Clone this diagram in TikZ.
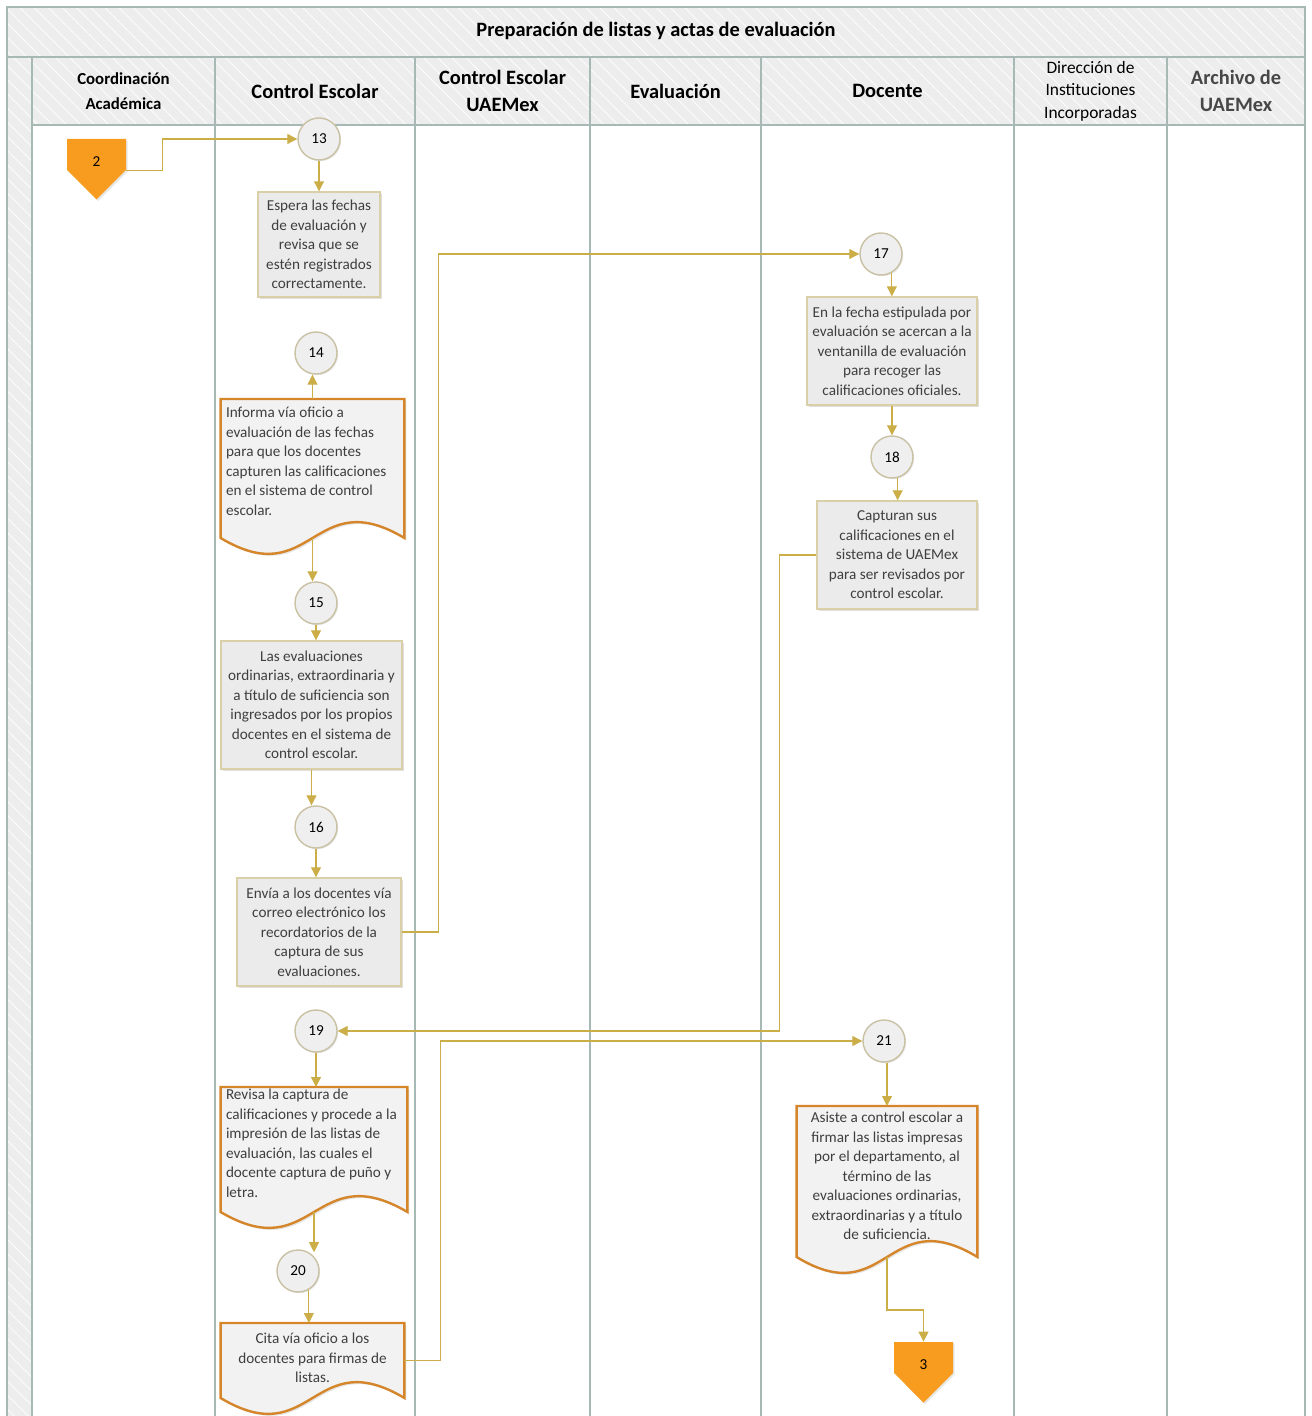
\documentclass[tikz,border=0pt]{standalone}
\usepackage{fontspec}
\setmainfont{Carlito}
\usetikzlibrary{shapes.symbols,arrows.meta,calc,patterns.meta,backgrounds,shadows}

\definecolor{laneline}{HTML}{A7B9B4}
\definecolor{head}{HTML}{EDEDED}
\definecolor{flowc}{HTML}{CCAE48}
\definecolor{boxfill}{HTML}{EBEBEB}
\definecolor{boxline}{HTML}{D9D0A8}
\definecolor{circline}{HTML}{C9C1A3}
\definecolor{docline}{HTML}{D5862B}
\definecolor{docfill}{HTML}{F2F2F2}
\definecolor{offpage}{HTML}{F79C1F}
\definecolor{txt}{HTML}{3F3F3F}

\newcommand\bodyfont{\fontsize{7.6}{9.75}\selectfont}

\tikzset{
  lane/.style={draw=laneline, line width=1pt},
  band/.style={fill=head, postaction={pattern={Lines[angle=-45,distance=5pt,line width=0.35pt]}, pattern color=white}},
  title/.style={font=\bfseries\fontsize{10.2}{12}\selectfont},
  lanehead/.style={font=\bfseries\fontsize{10.2}{13.5}\selectfont, align=center},
  flow/.style={draw=flowc, line width=0.55pt, -{Triangle[width=5pt,length=5pt]}},
  stepnum/.style={circle, draw=circline, line width=0.7pt, fill=boxfill!80!white, minimum size=21pt, inner sep=0pt,
    font=\bodyfont, drop shadow={opacity=0.2, shadow xshift=0.6pt, shadow yshift=-0.6pt}},
  proc/.style={rectangle, draw=boxline, line width=0.7pt, fill=boxfill, align=center, inner sep=2pt,
    font=\bodyfont, text=txt, drop shadow={opacity=0.25, shadow xshift=1pt, shadow yshift=-1pt}},
  doctext/.style={anchor=north, inner xsep=2.5pt, inner ysep=3pt, font=\bodyfont, text=txt},
  docshape/.style={draw=docline, line width=1.2pt, fill=docfill,
    drop shadow={opacity=0.2, shadow xshift=1pt, shadow yshift=-1pt}},
  offpg/.style={signal, signal to=south, signal from=nowhere, fill=offpage, draw=none,
    minimum width=29.5pt, minimum height=15.5pt, inner sep=0pt,
    drop shadow={opacity=0.2, shadow xshift=0.8pt, shadow yshift=-0.8pt}},
  offnum/.style={font=\bodyfont, yshift=-3.5pt}
}

% document frame: wavy bottom, #2 = height of the frame
\newcommand\docframe[2]{%
  \coordinate (#1b) at ($(#1.north)+(0,-#2)$);
  \coordinate (#1e) at ($(#1.north east)!0.5!(#1.north east |- #1b)$);
  \begin{scope}[on background layer]
    \path[docshape] (#1.north west) -- (#1.north east) -- (#1.north east |- #1b)
      .. controls ($(#1b)+(0,55)$) and ($(#1b)+(0,-55)$) .. (#1.north west |- #1b) -- cycle;
  \end{scope}}

\begin{document}
\begin{tikzpicture}[x=0.5pt,y=0.5pt]
\useasboundingbox (0,0) rectangle (1311,-1416);

% pool, header row and lanes
\path[band] (7,-7) rectangle (1305,-57);
\path[band] (32,-57) rectangle (1305,-125);
\path[band] (7,-57) rectangle (32,-1416);
\draw[lane] (7,-1416) -- (7,-7) -- (1305,-7) -- (1305,-1416);
\draw[lane] (7,-57) -- (1305,-57);
\draw[lane] (32,-125) -- (1305,-125);
\draw[lane] (32,-57) -- (32,-1416);
\draw[lane] (215,-57) -- (215,-1416);
\draw[lane] (415,-57) -- (415,-1416);
\draw[lane] (590,-57) -- (590,-1416);
\draw[lane] (761,-57) -- (761,-1416);
\draw[lane] (1014,-57) -- (1014,-1416);
\draw[lane] (1167,-57) -- (1167,-1416);

\node[title] (titulo) at (656,-31) {Preparación de listas y actas de evaluación};
\node[lanehead, font=\bfseries\fontsize{8.4}{12.5}\selectfont] (hcoord) at (123.5,-91) {Coordinación\\Académica};
\node[lanehead] (hcontrol) at (315,-91) {Control Escolar};
\node[lanehead] (huaem) at (502.5,-91) {Control Escolar\\UAEMex};
\node[lanehead] (heval) at (675.5,-91) {Evaluación};
\node[lanehead] (hdoc) at (887.5,-91) {Docente};
\node[lanehead, font=\fontsize{8.7}{11.25}\selectfont] (hdir) at (1090.5,-91) {Dirección de\\Instituciones\\Incorporadas};
\node[lanehead, text=black!72] (harch) at (1236,-91) {Archivo de\\UAEMex};

% steps
\node[offpg, label={[offnum]center:2}] (o2) at (96.5,-154.5) {};
\node[stepnum] (c13) at (319,-139) {13};
\node[proc, minimum width=61pt, minimum height=52.5pt] (b13) at (319,-244.5)
  {Espera las fechas\\de evaluación y\\revisa que se\\estén registrados\\correctamente.};
\node[stepnum] (c14) at (316,-353) {14};
\node[doctext, align=flush left, text width=86.5pt, inner ysep=4pt] (d14) at (312.5,-399)
  {Informa vía oficio a\\evaluación de las fechas\\para que los docentes\\capturen las calificaciones\\en el sistema de control\\escolar.};
\docframe{d14}{139}
\node[stepnum] (c15) at (316,-603) {15};
\node[proc, minimum width=90.5pt, minimum height=64pt] (b15) at (311.5,-705)
  {Las evaluaciones\\ordinarias, extraordinaria y\\a título de suficiencia son\\ingresados por los propios\\docentes en el sistema de\\control escolar.};
\node[stepnum] (c16) at (316,-827) {16};
\node[proc, minimum width=82pt, minimum height=54pt] (b16) at (319,-932)
  {Envía a los docentes vía\\correo electrónico los\\recordatorios de la\\captura de sus\\evaluaciones.};
\node[stepnum] (c17) at (881,-254) {17};
\node[proc, minimum width=85pt, minimum height=54pt] (b17) at (892,-351)
  {En la fecha estipulada por\\evaluación se acercan a la\\ventanilla de evaluación\\para recoger las\\calificaciones oficiales.};
\node[stepnum] (c18) at (892,-457) {18};
\node[proc, minimum width=80pt, minimum height=54pt] (b18) at (897,-555)
  {Capturan sus\\calificaciones en el\\sistema de UAEMex\\para ser revisados por\\control escolar.};
\node[stepnum] (c19) at (316,-1031) {19};
\node[doctext, align=flush left, text width=88pt, inner ysep=1pt] (d19) at (314,-1087)
  {Revisa la captura de\\calificaciones y procede a la\\impresión de las listas de\\evaluación, las cuales el\\docente captura de puño y\\letra.};
\docframe{d19}{125}
\node[stepnum] (c20) at (298,-1271) {20};
\node[doctext, align=flush center, text width=86.5pt, inner ysep=5pt] (d20) at (312.5,-1323)
  {Cita vía oficio a los\\docentes para firmas de\\listas.};
\docframe{d20}{75}
\node[stepnum] (c21) at (884,-1041) {21};
\node[doctext, align=flush center, text width=85pt] (d21) at (887,-1106)
  {Asiste a control escolar a\\firmar las listas impresas\\por el departamento, al\\término de las\\evaluaciones ordinarias,\\extraordinarias y a título\\de suficiencia.};
\docframe{d21}{151}
\node[offpg, label={[offnum]center:3}] (o3) at (923.5,-1357.5) {};

% connectors
\draw[flow] (o2.south east) -- ++(36,0) |- (c13);
\draw[flow] (c13) -- (b13);
\draw[flow] (d14.north) -- (d14.north |- c14.south);
\draw[flow] (d14b) -- (d14b |- c15.north);
\draw[flow] (c15.south) -- (c15.south |- b15.north);
\draw[flow] (b15.south) -- (b15.south |- c16.north);
\draw[flow] (c16) -- (c16 |- b16.north);
\draw[flow] (b16.east) -- ++(37,0) |- (c17);
\draw[flow] (c17.-60) -- (c17.-60 |- b17.north);
\draw[flow] (b17) -- (c18);
\draw[flow] (c18.-75) -- (c18.-75 |- b18.north);
\draw[flow] (b18.west) -- ++(-37,0) |- (c19);
\draw[flow] (c19) -- (c19 |- d19.north);
\draw[flow] (d19b) -- (d19b |- c20.60);
\draw[flow] (c20.-60) -- (c20.-60 |- d20.north);
\draw[flow] (d20e) -- ++(36,0) |- (c21);
\draw[flow] (d21.north |- c21.south) -- (d21.north);
\draw[flow] (d21b) -- ++(0,-53) -| (o3.north);
\end{tikzpicture}
\end{document}
